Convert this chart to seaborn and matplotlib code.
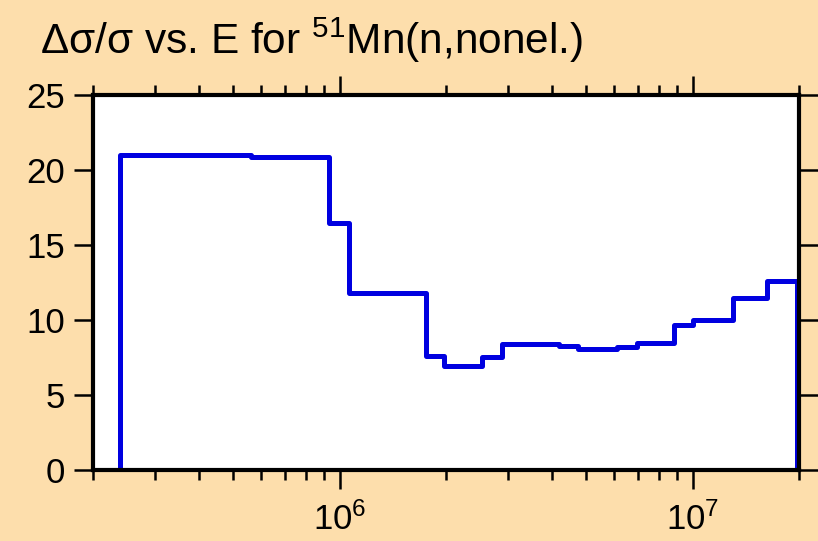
import matplotlib
matplotlib.use('Agg')
import math
import matplotlib.pyplot as plt
import matplotlib.ticker as mticker
import seaborn as sns
import pandas as pd

# bin edges (eV) and relative uncertainty (%)
edges = [2.39e5, 5.6e5, 9.3e5, 1.06e6, 1.75e6, 1.98e6, 2.53e6, 2.89e6, 4.18e6,
         4.73e6, 6.1e6, 6.95e6, 8.84e6, 1.0e7, 1.3e7, 1.62e7, 1.98e7]
values = [21.0, 20.85, 16.5, 11.8, 7.6, 6.95, 7.55, 8.4, 8.3,
          8.1, 8.18, 8.45, 9.65, 10.0, 11.5, 12.6]

bg = "#fddeac"

sns.set_style("ticks")
plt.rcParams['font.family'] = ['Liberation Sans', 'DejaVu Sans']
plt.rcParams['mathtext.default'] = 'regular'
plt.rcParams['text.color'] = 'black'
plt.rcParams['xtick.color'] = 'black'
plt.rcParams['ytick.color'] = 'black'
plt.rcParams['xtick.labelcolor'] = 'black'
plt.rcParams['ytick.labelcolor'] = 'black'
plt.rcParams['xtick.labelsize'] = 25
plt.rcParams['ytick.labelsize'] = 25

# step outline, closed down to zero at both ends
x = [edges[0]] + edges[:-1] + [edges[-1]]
y = [0] + values + [0]
df = pd.DataFrame({"E": x, "rel": y})

fig = plt.figure(figsize=(8.18, 5.41), dpi=100, facecolor=bg)
ax = fig.add_axes([93/818, 71/541, 706/818, 375/541])
ax.set_facecolor("white")

sns.lineplot(data=df, x="E", y="rel", ax=ax, estimator=None, sort=False,
             drawstyle="steps-post", color="#0000e0", linewidth=3.6)

ax.set_xscale("log")
ax.set_xlim(2.0e5, 2.0e7)
ax.set_ylim(0, 25)
ax.set_yticks([0, 5, 10, 15, 20, 25])
ax.xaxis.set_major_locator(mticker.FixedLocator([1e6, 1e7]))
ax.xaxis.set_major_formatter(mticker.FuncFormatter(
    lambda v, p: r"$10^{%d}$" % round(math.log10(v))))
ax.xaxis.set_minor_locator(mticker.LogLocator(base=10, subs=range(2, 10), numticks=20))
ax.xaxis.set_minor_formatter(mticker.NullFormatter())
ax.set_xlabel("")
ax.set_ylabel("")

for s in ax.spines.values():
    s.set_visible(True)
    s.set_linewidth(3)
    s.set_color("black")

ax.tick_params(which="both", direction="out", top=True, right=True,
               width=1.8, color="black")
ax.tick_params(which="major", length=14, pad=6)
ax.tick_params(which="minor", length=7)
ax.tick_params(axis="x", which="major", pad=9)

fig.text(40/818, 1 - 54/541, r"$\Delta\sigma/\sigma$ vs. E for $^{51}$Mn(n,nonel.)",
         fontsize=30.5, ha="left", va="baseline", color="black")

fig.savefig("out.png", dpi=100, facecolor=bg)
